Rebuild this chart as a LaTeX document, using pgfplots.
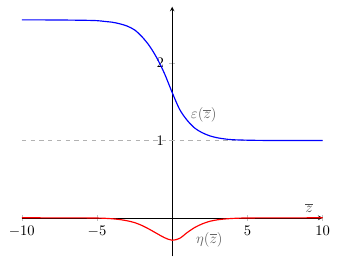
\documentclass[border=0pt]{standalone}
\usepackage{pgfplots}
\pgfplotsset{compat=1.18}
\begin{document}
\begin{tikzpicture}
\begin{axis}[
  name=ax,
  scale only axis,
  width=206pt, height=171pt,
  axis lines=middle,
  xmin=-10, xmax=10, ymin=-0.5, ymax=2.73,
  xtick={-10,-5,5,10},
  ytick={1,2},
  tick style={gray!50},
  xlabel={$\overline{z}$},
  every axis x label/.style={at={(axis cs:9.1,0)}, anchor=south, text=black!70},
]
\addplot[gray!60, dashed, thick] coordinates {(-10,1) (10,1)};
\addplot[blue, thick, smooth] coordinates {
(-10,2.56) (-8,2.559) (-6,2.555) (-5,2.55) (-4.5,2.54) (-4,2.53) (-3.5,2.51)
(-3,2.48) (-2.5,2.43) (-2,2.34) (-1.5,2.22) (-1,2.06) (-0.5,1.86) (0,1.62)
(0.5,1.40) (1,1.26) (1.5,1.16) (2,1.10) (2.5,1.06) (3,1.035) (3.5,1.02)
(4,1.01) (5,1.004) (6,1.001) (8,1.0) (10,1.0)};
\addplot[red, thick, smooth] coordinates {
(-10,0) (-6,-0.001) (-5,-0.003) (-4.5,-0.006) (-4,-0.012) (-3.5,-0.022)
(-3,-0.038) (-2.5,-0.062) (-2,-0.10) (-1.5,-0.15) (-1,-0.205) (-0.5,-0.258)
(0,-0.29) (0.5,-0.265) (1,-0.19) (1.5,-0.125) (2,-0.078) (2.5,-0.045)
(3,-0.026) (3.5,-0.015) (4,-0.008) (4.5,-0.004) (5,-0.002) (6,-0.001) (10,0)};
\node[text=black!60] at (axis cs:2.1,1.33) {$\varepsilon(\overline{z})$};
\node[text=black!60] at (axis cs:2.47,-0.28) {$\eta(\overline{z})$};
\end{axis}
\path (ax.south west) ++(-14.9pt,-4.3pt);
\path (ax.north east) ++(16pt,4.6pt);
\end{tikzpicture}
\end{document}
